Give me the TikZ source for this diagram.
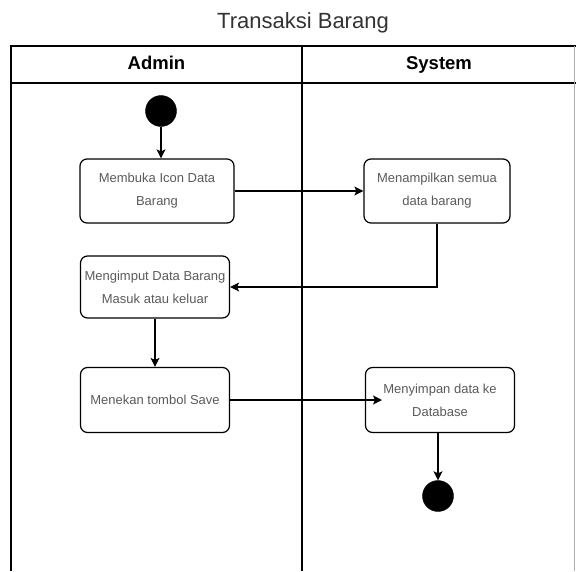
\documentclass[tikz,border=0pt]{standalone}
\usepackage{fontspec}
\setmainfont{Liberation Sans}
\usepackage{tikz}
\usetikzlibrary{positioning,arrows.meta,calc}
\definecolor{teksabu}{HTML}{5A5A5A}
\definecolor{garisabu}{HTML}{B0B0B0}

\tikzset{
  aksi/.style={draw,rectangle,rounded corners=7pt,line width=1.2pt,align=center,
    text=teksabu,font=\fontsize{13}{23}\selectfont,inner sep=0pt},
  titik/.style={circle,fill=black,draw=black,minimum size=31pt,inner sep=0pt},
  alur/.style={->,line width=1.2pt},
  lajur/.style={font=\fontsize{18.5}{20}\selectfont\bfseries,anchor=base}
}

\begin{document}
\begin{tikzpicture}[x=1pt,y=-1pt,node distance=96pt,on grid,auto,>={Stealth[length=9pt,width=9pt,inset=2pt]}]
\useasboundingbox (0,0) rectangle (576,571);
% swimlane
\node[font=\fontsize{22}{24}\selectfont,text=black!80,anchor=base](judul) at (303,28){Transaksi Barang};
\draw[line width=1.2pt] (11,571) -- (11,46) -- (576,46);
\draw[line width=1.2pt] (11,83) -- (576,83);
\draw[line width=1.2pt] (302,46) -- (302,571);
\draw[garisabu,line width=1pt] (574,46) -- (574,571);
\node[lajur](lane_a) at (156.5,69){Admin};
\node[lajur](lane_s) at (439,69){System};

\node[titik](q_s) at (161,111){};
\node[aksi,minimum width=154pt,minimum height=64pt](q_1)[below=of q_s,xshift=-4pt,yshift=16pt]{Membuka Icon Data\\Barang};
\node[aksi,minimum width=146pt,minimum height=64pt](q_2)[right=of q_1,xshift=184pt]{Menampilkan semua\\data barang};
\node[aksi,minimum width=149pt,minimum height=62pt](q_3)[below=of q_1,xshift=-2pt]{Mengimput Data Barang\\Masuk atau keluar};
\node[aksi,minimum width=149pt,minimum height=65pt](q_4)[below=of q_3,yshift=-17pt]{Menekan tombol Save};
\node[aksi,minimum width=149pt,minimum height=65pt](q_5)[right=of q_4,xshift=189pt]{Menyimpan data ke\\Database};
\node[titik](q_e)[below=of q_5,xshift=-2pt]{};
\node[coordinate](q_m)[right=of q_4,xshift=131pt]{};

\draw[alur] (q_s) -- (q_s|-q_1.north);
\draw[alur] (q_1) -- (q_2);
\draw[alur] (q_2.south) |- (q_3.east);
\draw[alur] (q_3) -- (q_4);
\draw[alur] (q_4.east) -- (q_m);
\draw[alur] (q_e|-q_5.south) -- (q_e);

\end{tikzpicture}
\end{document}
